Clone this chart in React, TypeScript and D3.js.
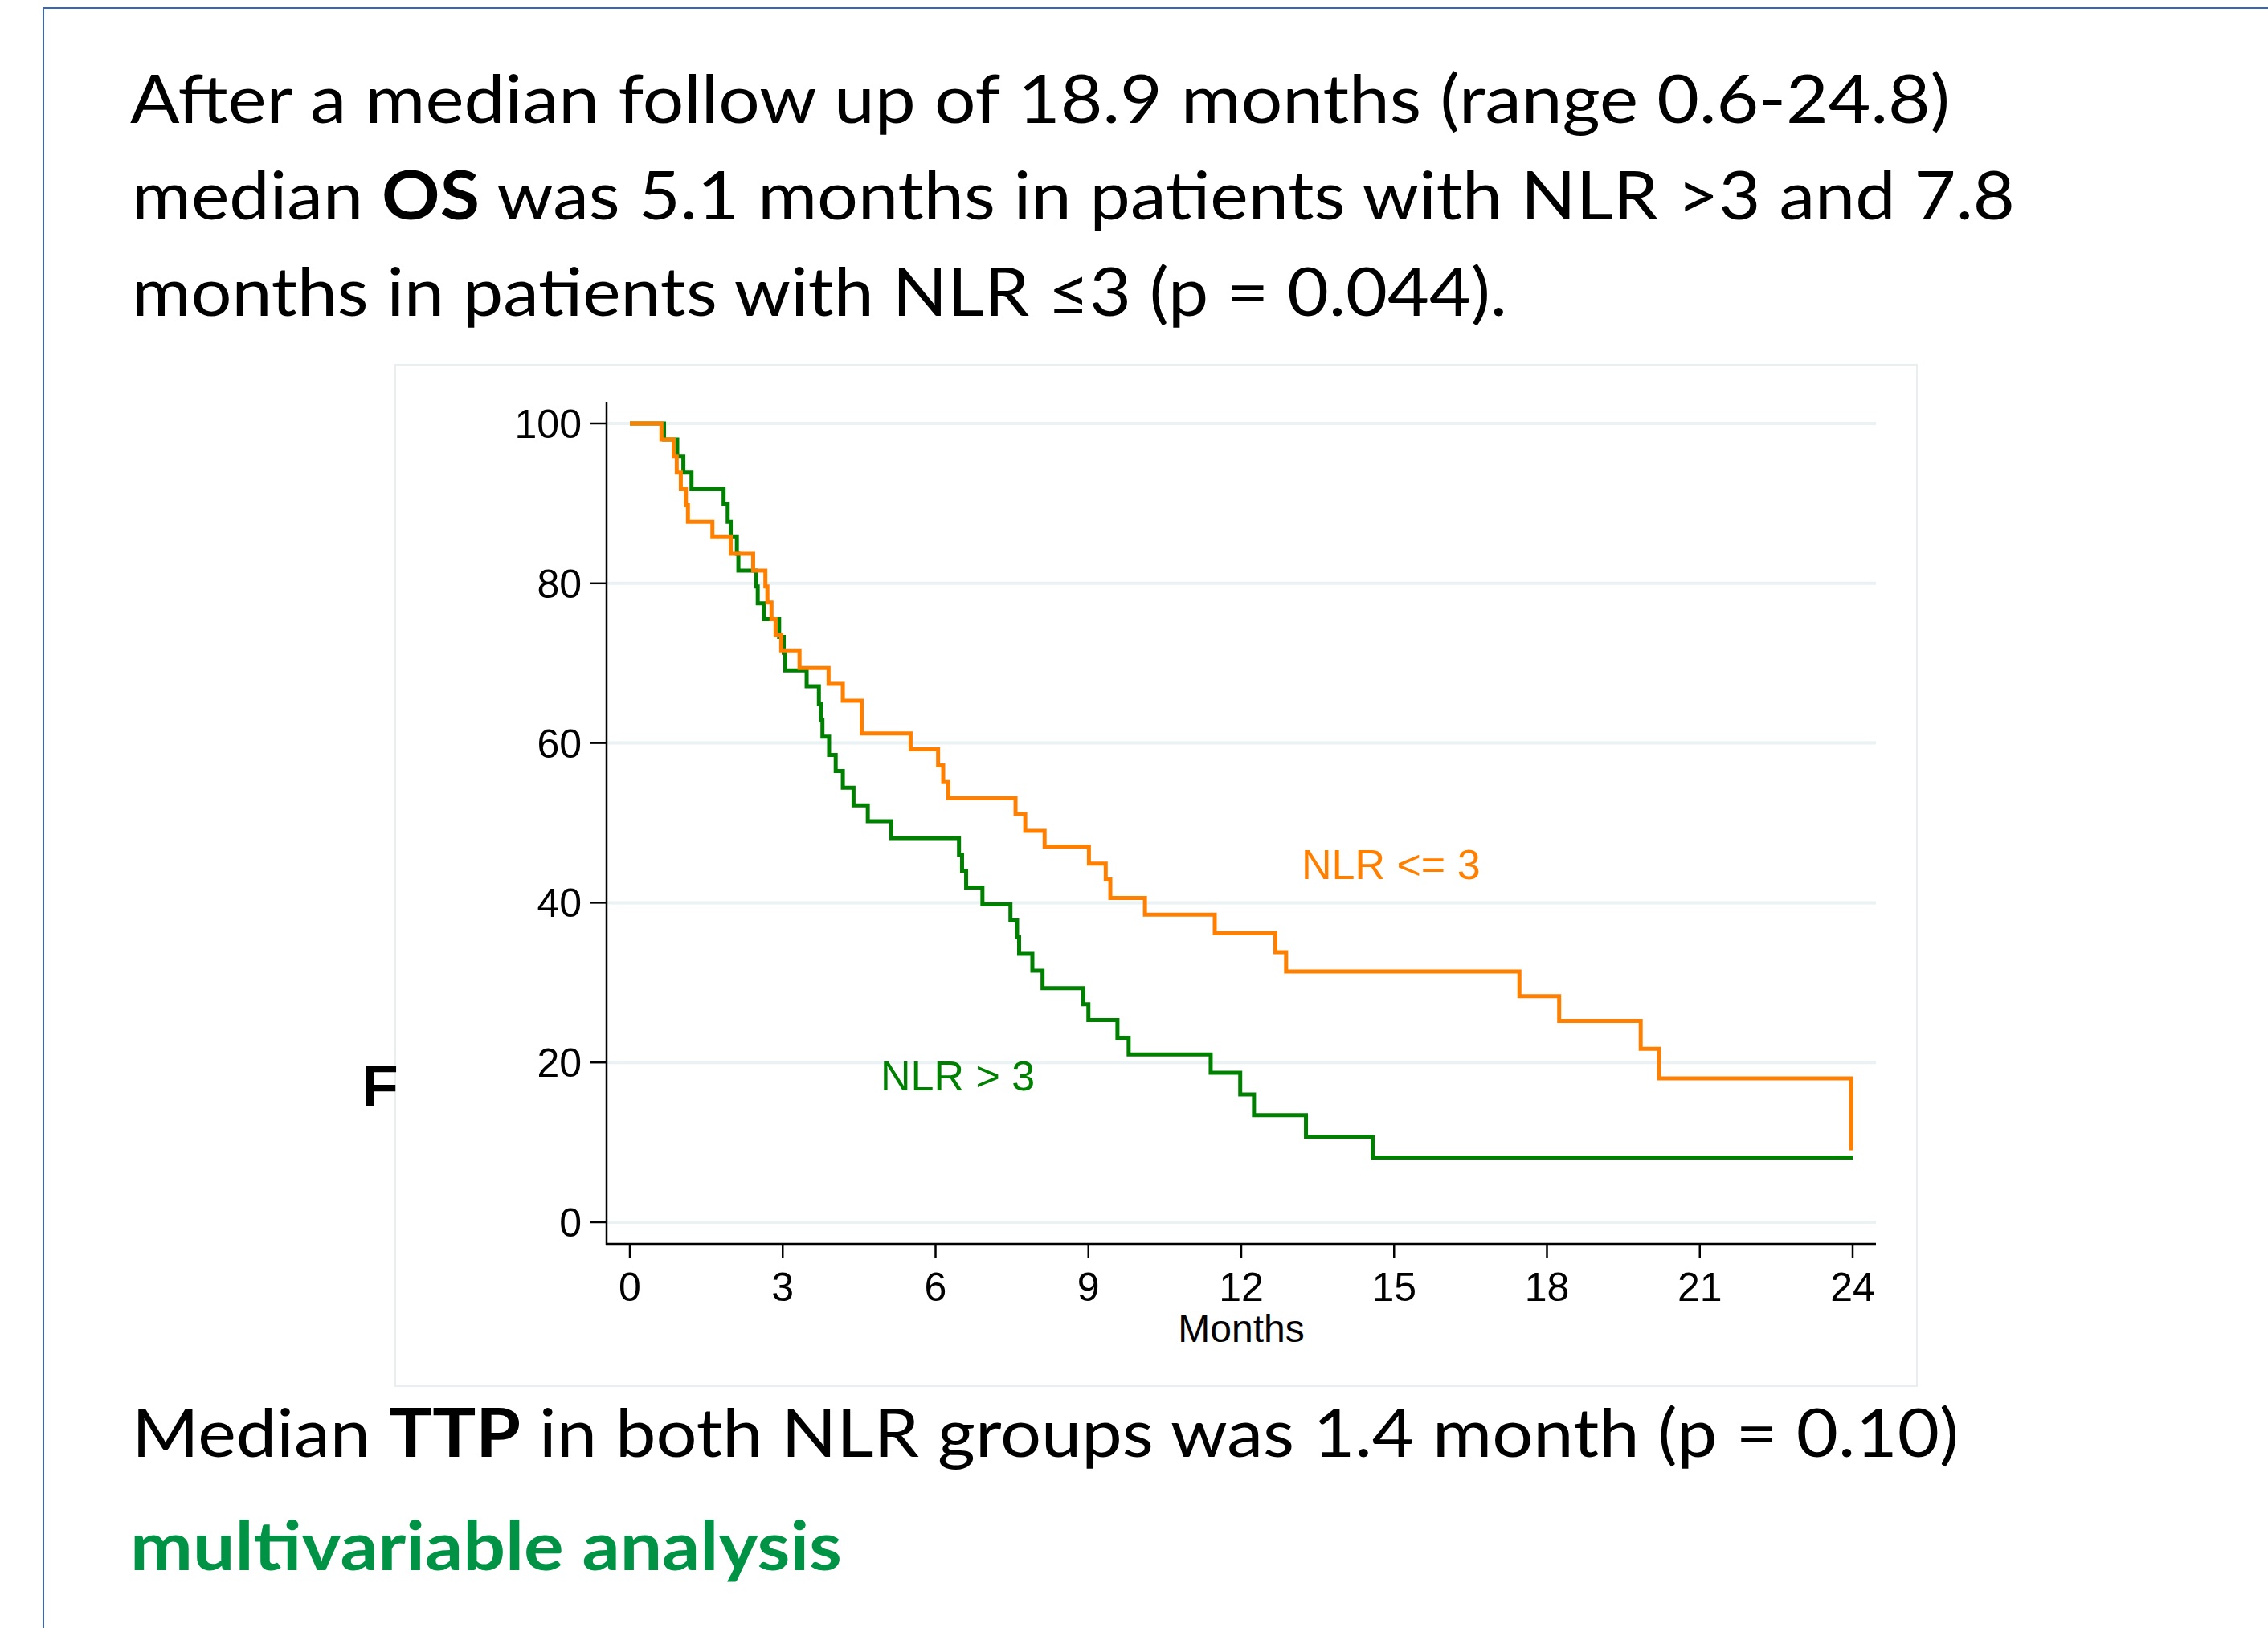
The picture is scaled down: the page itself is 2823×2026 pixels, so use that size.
import React from "react";
import * as d3 from "d3";

// ---- Data ----
const nlrHighTimes = [0, 0.67, 0.93, 1.05, 1.21, 1.84, 1.92, 1.98, 2.10, 2.13, 2.48, 2.51, 2.63, 2.93, 3.02, 3.05, 3.47, 3.71, 3.75, 3.78, 3.91, 4.04, 4.18, 4.39, 4.67, 5.13, 6.46, 6.52, 6.60, 6.92, 7.47, 7.60, 7.64, 7.90, 8.10, 8.90, 9.00, 9.57, 9.79, 11.40, 11.98, 12.25, 13.27, 14.58, 24.0];
const nlrHighSurv = [100, 98.0, 95.9, 93.9, 91.8, 89.9, 87.7, 85.8, 83.7, 81.6, 79.6, 77.5, 75.5, 73.3, 71.3, 69.1, 67.1, 64.9, 62.9, 60.8, 58.5, 56.5, 54.4, 52.2, 50.2, 48.1, 46.0, 44.0, 41.9, 39.8, 37.8, 35.7, 33.6, 31.5, 29.3, 27.3, 25.3, 23.1, 21.0, 18.7, 16.0, 13.4, 10.7, 8.1, 8.1];

const nlrLowTimes = [0, 0.62, 0.86, 0.92, 1.00, 1.10, 1.14, 1.62, 1.98, 2.42, 2.66, 2.70, 2.78, 2.86, 2.97, 3.33, 3.90, 4.18, 4.55, 5.51, 6.05, 6.15, 6.25, 7.57, 7.76, 8.14, 9.01, 9.34, 9.43, 10.11, 11.48, 12.67, 12.88, 17.46, 18.24, 19.84, 20.20, 23.97];
const nlrLowSurv = [100, 98.0, 95.9, 93.9, 91.8, 89.8, 87.7, 85.8, 83.7, 81.6, 79.6, 77.6, 75.5, 73.5, 71.5, 69.4, 67.4, 65.3, 61.2, 59.2, 57.2, 55.1, 53.1, 51.1, 49.0, 47.0, 44.9, 42.9, 40.6, 38.5, 36.2, 33.8, 31.4, 28.3, 25.2, 21.7, 18.0, 9.0];

const xTicks = [0, 3, 6, 9, 12, 15, 18, 21, 24];
const yTicks = [0, 20, 40, 60, 80, 100];

const xTitle = "Months";
const lowLabel = "NLR <= 3";
const highLabel = "NLR > 3";

const GREEN = "#008000";
const ORANGE = "#FF8000";

export default function App() {
  const W = 2823;
  const H = 2026;
  const x = d3.scaleLinear().domain([0, 24]).range([784, 2306]);
  const y = d3.scaleLinear().domain([0, 100]).range([1521, 527]);
  const axisX = 755;
  const axisY = 1548;
  const plotRight = 2335;

  const line = d3
    .line<[number, number]>()
    .x((d) => x(d[0]))
    .y((d) => y(d[1]))
    .curve(d3.curveStepAfter);

  const highPts: [number, number][] = nlrHighTimes.map((t, i) => [t, nlrHighSurv[i]]);
  const lowPts: [number, number][] = nlrLowTimes.map((t, i) => [t, nlrLowSurv[i]]);

  const chartFont = "'Liberation Sans', Arial, sans-serif";
  const textFont = "Lato, 'Open Sans', sans-serif";

  return (
    <svg
      width={W}
      height={H}
      style={{ position: "absolute", left: 0, top: 0, background: "#fff" }}
    >
      <rect x={0} y={0} width={W} height={H} fill="#fff" />
      {/* slide border */}
      <line x1={54} y1={10} x2={W} y2={10} stroke="#3A66B8" strokeWidth={2} />
      <line x1={54} y1={10} x2={54} y2={H} stroke="#3A66B8" strokeWidth={2} />

      {/* heading text */}
      <g fontFamily={textFont} fontSize={84} fill="#000">
        <text x={162} y={153} textLength={2265} lengthAdjust="spacingAndGlyphs">
          After a median follow up of 18.9 months (range 0.6-24.8)
        </text>
        <text x={164} y={273} textLength={2344} lengthAdjust="spacingAndGlyphs">
          median <tspan fontWeight="bold">OS</tspan> was 5.1 months in patients with NLR &gt;3 and 7.8
        </text>
        <text x={164} y={393} textLength={1712} lengthAdjust="spacingAndGlyphs">
          months in patients with NLR ≤3 (p = 0.044).
        </text>
        <text x={164} y={1813} textLength={2274} lengthAdjust="spacingAndGlyphs">
          Median <tspan fontWeight="bold">TTP</tspan> in both NLR groups was 1.4 month (p = 0.10)
        </text>
        <text
          x={162}
          y={1954}
          fill="#009245"
          fontWeight="bold"
          textLength={886}
          lengthAdjust="spacingAndGlyphs"
        >
          multivariable analysis
        </text>
      </g>

      {/* chart frame */}
      <rect x={492} y={454} width={1894} height={1271} fill="none" stroke="#E9EEEE" strokeWidth={2} />

      {/* F label */}
      <text x={450} y={1377} fontFamily={chartFont} fontWeight="bold" fontSize={75} fill="#000">
        F
      </text>

      {/* gridlines */}
      {yTicks.map((t) => (
        <line key={"g" + t} x1={axisX} x2={plotRight} y1={y(t)} y2={y(t)} stroke="#EAF2F3" strokeWidth={4} />
      ))}

      {/* curves */}
      <path d={line(highPts) || ""} fill="none" stroke={GREEN} strokeWidth={5} />
      <path d={line(lowPts) || ""} fill="none" stroke={ORANGE} strokeWidth={5} />

      {/* axes */}
      <line x1={axisX} x2={axisX} y1={500} y2={axisY + 1} stroke="#000" strokeWidth={2.5} />
      <line x1={axisX - 1} x2={plotRight} y1={axisY} y2={axisY} stroke="#000" strokeWidth={2.5} />

      <g fontFamily={chartFont} fontSize={50} fill="#000">
        {yTicks.map((t) => (
          <g key={"y" + t}>
            <line x1={735} x2={axisX} y1={y(t)} y2={y(t)} stroke="#000" strokeWidth={2.5} />
            <text x={724} y={y(t) + 18} textAnchor="end">
              {t}
            </text>
          </g>
        ))}
        {xTicks.map((t) => (
          <g key={"x" + t}>
            <line x1={x(t)} x2={x(t)} y1={axisY} y2={1566} stroke="#000" strokeWidth={2.5} />
            <text x={x(t)} y={1619} textAnchor="middle">
              {t}
            </text>
          </g>
        ))}
        <text x={(x(0) + x(24)) / 2} y={1670} textAnchor="middle" fontSize={48}>
          {xTitle}
        </text>
      </g>

      {/* curve labels */}
      <text x={1620} y={1094} fontFamily={chartFont} fontSize={52} fill={ORANGE}>
        {lowLabel}
      </text>
      <text x={1096} y={1357} fontFamily={chartFont} fontSize={52} fill={GREEN}>
        {highLabel}
      </text>
    </svg>
  );
}
